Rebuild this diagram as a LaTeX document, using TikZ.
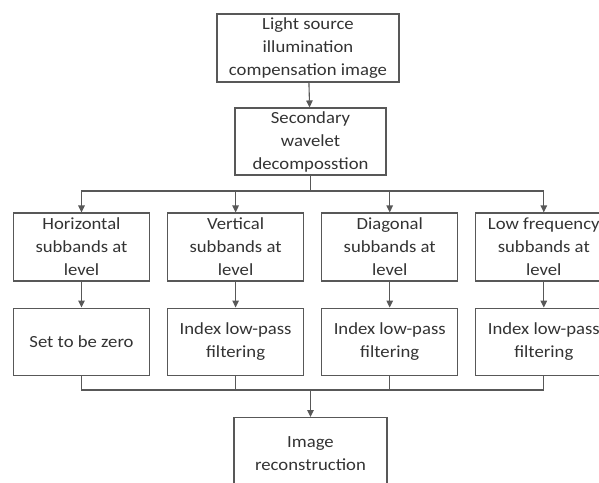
\documentclass[tikz,border=0pt]{standalone}
\usepackage{fontspec}
\setmainfont{Carlito}[FakeStretch=1.10]
\usepackage{tikz}
\usepackage{xcolor}
\usetikzlibrary{arrows.meta,positioning}

\definecolor{linegray}{HTML}{585858}
\definecolor{textgray}{HTML}{333333}

\begin{document}
\begin{tikzpicture}[
x=1pt,y=1pt,
box/.style={draw=linegray,line width=1.1pt,align=center,minimum width=136pt,minimum height=68pt,inner sep=1pt,text=textgray,font=\fontsize{17}{23}\selectfont},
arrow/.style={-{Triangle[length=7pt,width=6.5pt]},line width=1.1pt,draw=linegray},
link/.style={line width=1.1pt,draw=linegray}
]
\useasboundingbox (0,0) rectangle (599,-482);
\clip (0,0) rectangle (599,-482);
\node[box,minimum width=182pt] (source) at (308,-48) {Light source\\illumination\\compensation image};
\node[box,minimum width=151pt,minimum height=67pt] (wavelet) at (310.5,-141.5) {Secondary\\wavelet\\decomposstion};
\node[box] (horiz) at (81.5,-247) {Horizontal\\subbands at\\level};
\node[box,right=17pt of horiz] (vert) {Vertical\\subbands at\\level};
\node[box,right=17pt of vert] (diag) {Diagonal\\subbands at\\level};
\node[box,right=17pt of diag] (lowfreq) {Low frequency\\subbands at\\level};
\node[box,minimum height=67pt,below=26pt of horiz] (zero) {Set to be zero};
\node[box,minimum height=67pt,below=26pt of vert] (filtv) {Index low-pass\\filtering};
\node[box,minimum height=67pt,below=26pt of diag] (filtd) {Index low-pass\\filtering};
\node[box,minimum height=67pt,below=26pt of lowfreq] (filtl) {Index low-pass\\filtering};
\node[box,minimum width=153pt,anchor=north,inner ysep=19pt,text depth=40pt] (recon) at (310.5,-417) {Image\\reconstruction};
\coordinate (split) at (310.5,-191);
\coordinate (merge) at (310.5,-390);
\draw[arrow] (source) -- (wavelet);
\draw[link] (wavelet) -- (split);
\draw[arrow] (split) -| (horiz);
\draw[arrow] (split) -| (vert);
\draw[arrow] (split) -| (diag);
\draw[arrow] (split) -| (lowfreq);
\draw[arrow] (horiz) -- (zero);
\draw[arrow] (vert) -- (filtv);
\draw[arrow] (diag) -- (filtd);
\draw[arrow] (lowfreq) -- (filtl);
\draw[link] (zero) |- (merge);
\draw[link] (filtv) |- (merge);
\draw[link] (filtd) |- (merge);
\draw[link] (filtl) |- (merge);
\draw[arrow] (merge) -- (recon);
\end{tikzpicture}
\end{document}
